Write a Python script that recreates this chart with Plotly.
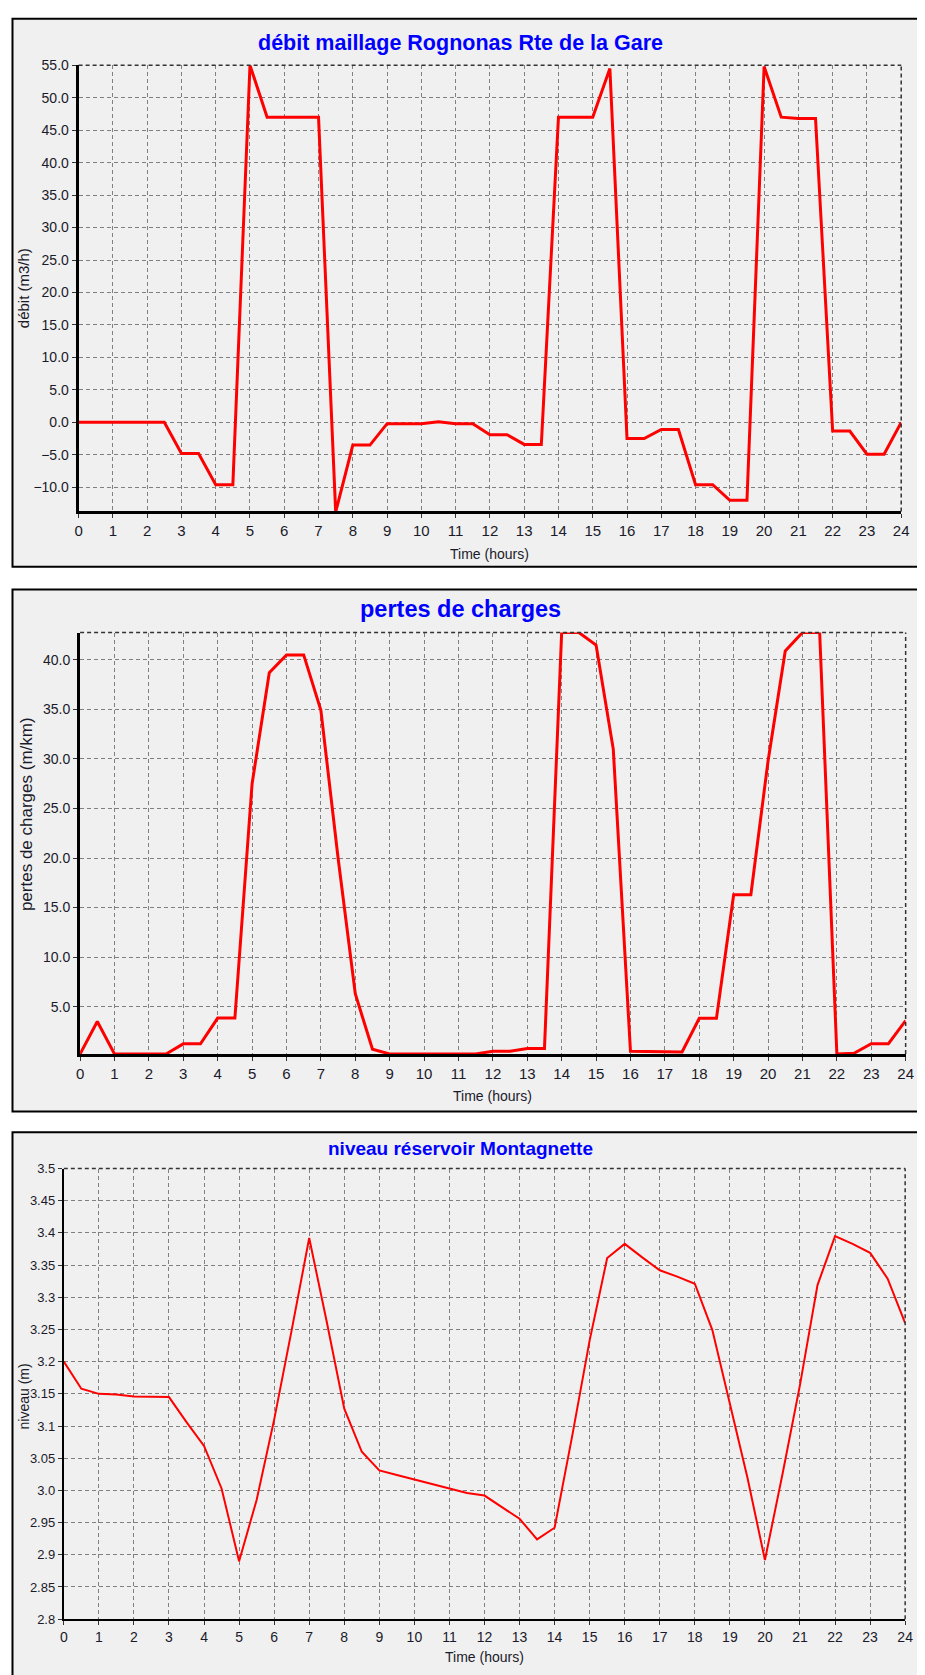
import plotly.graph_objects as go

# The page body has an 8px margin; shift the figure so screen positions match
OFF = 8
W, H = 925 - OFF, 1675 - OFF

hours = [0, 0.5, 1, 1.5, 2, 2.5, 3, 3.5, 4, 4.5, 5, 5.5, 6, 6.5, 7, 7.5, 8, 8.5,
         9, 9.5, 10, 10.5, 11, 11.5, 12, 12.5, 13, 13.5, 14, 14.5, 15, 15.5, 16,
         16.5, 17, 17.5, 18, 18.5, 19, 19.5, 20, 20.5, 21, 21.5, 22, 22.5, 23,
         23.5, 24]

debit = [0, 0, 0, 0, 0, 0, -4.8, -4.8, -9.6, -9.6, 55, 47, 47, 47, 47, -13.8,
         -3.5, -3.5, -0.2, -0.2, -0.2, 0.1, -0.2, -0.2, -1.9, -1.9, -3.4, -3.4,
         47, 47, 47, 54.5, -2.5, -2.5, -1.1, -1.1, -9.6, -9.6, -12, -12, 54.8,
         47, 46.8, 46.8, -1.35, -1.35, -4.9, -4.9, 0]

pertes = [0.23, 3.5, 0.23, 0.23, 0.23, 0.23, 1.25, 1.25, 3.85, 3.85, 27.5, 38.7,
          40.5, 40.5, 34.9, 20.0, 6.3, 0.7, 0.23, 0.23, 0.23, 0.23, 0.23, 0.23,
          0.5, 0.5, 0.77, 0.77, 42.76, 42.76, 41.5, 31.0, 0.5, 0.5, 0.43, 0.43,
          3.83, 3.83, 16.3, 16.3, 29.8, 40.9, 42.76, 42.76, 0.23, 0.3, 1.26,
          1.26, 3.6]

niveau = [3.20, 3.158, 3.15, 3.149, 3.146, 3.145, 3.145, 3.106, 3.069, 3.003,
          2.89, 2.985, 3.11, 3.249, 3.392, 3.262, 3.127, 3.06, 3.031, 3.024,
          3.017, 3.009, 3.003, 2.996, 2.992, 2.974, 2.956, 2.924, 2.942, 3.084,
          3.233, 3.361, 3.383, 3.362, 3.342, 3.332, 3.321, 3.249, 3.137, 3.02,
          2.892, 3.025, 3.164, 3.319, 3.395, 3.383, 3.369, 3.329, 3.26]

x_ticks = list(range(0, 25))
niveau_tickvals = [2.8, 2.85, 2.9, 2.95, 3.0, 3.05, 3.1, 3.15, 3.2, 3.25, 3.3,
                   3.35, 3.4, 3.45, 3.5]
niveau_ticktext = ["2.8", "2.85", "2.9", "2.95", "3.0", "3.05", "3.1", "3.15",
                   "3.2", "3.25", "3.3", "3.35", "3.4", "3.45", "3.5"]

titles = ["débit maillage Rognonas Rte de la Gare", "pertes de charges",
          "niveau réservoir Montagnette"]
y_titles = ["débit (m3/h)", "pertes de charges (m/km)", "niveau (m)"]
x_title = "Time (hours)"

FONT = "Arial, Liberation Sans, sans-serif"
TXT = "#1a1a2a"


def fx(px):
    return (px - OFF) / W


def fy(py):
    return 1 - (py - OFF) / H


# geometry (screen pixels) of each panel
panels = [
    dict(box=(8.5, 10.7, 950, 564), plot=(75.5, 57.7, 909, 508.3),
         title_y=35, xt_y=551, yt_x=20, yt_y=283, lw=3, line_w=3),
    dict(box=(8.5, 587, 950, 1114), plot=(77, 630.5, 913.5, 1056),
         title_y=607, xt_y=1098, yt_x=22, yt_y=814, lw=3, line_w=3),
    dict(box=(8.5, 1135, 950, 1720), plot=(60.5, 1171.7, 913, 1626.7),
         title_y=1151, xt_y=1665, yt_x=20, yt_y=1402, lw=2, line_w=2),
]

fig = go.Figure()
series = [debit, pertes, niveau]
for i, vals in enumerate(series):
    sfx = "" if i == 0 else str(i + 1)
    fig.add_trace(go.Scatter(x=hours, y=vals, mode="lines",
                             line=dict(color="#ff0000", width=panels[i]["line_w"]),
                             xaxis="x" + sfx, yaxis="y" + sfx,
                             showlegend=False, hoverinfo="x+y"))

shapes = []
annotations = []
layout = dict(width=W, height=H, margin=dict(l=0, r=0, t=0, b=0),
              paper_bgcolor="white", plot_bgcolor="white", showlegend=False)

grid = dict(showgrid=True, gridcolor="#808080", gridwidth=1, griddash="4px,3px",
            zeroline=False, showline=True, linecolor="black", mirror=False,
            ticks="outside", ticklen=4, tickcolor="#333", tickwidth=1)

yranges = [[-13.73, 55], [0.23, 42.76], [2.8, 3.5]]
title_sizes = [21.5, 23.5, 19]
ytitle_sizes = [15, 17, 14]
ytick_sizes = [14, 14, 13]
xtick_sizes = [15, 15, 14]

for i, p in enumerate(panels):
    sfx = "" if i == 0 else str(i + 1)
    bx0, by0, bx1, by1 = p["box"]
    px0, py0, px1, py1 = p["plot"]
    shapes.append(dict(type="rect", xref="paper", yref="paper", layer="below",
                       x0=fx(bx0), x1=fx(bx1), y0=fy(by1), y1=fy(by0),
                       fillcolor="#f0f0f0", line=dict(color="black", width=2)))
    xa = dict(grid, domain=[fx(px0), fx(px1)], range=[0, 24],
              tickvals=x_ticks, linewidth=p["lw"],
              tickfont=dict(family=FONT, size=xtick_sizes[i], color=TXT),
              anchor="y" + sfx)
    ya = dict(grid, domain=[fy(py1), fy(py0)], range=yranges[i],
              linewidth=p["lw"], anchor="x" + sfx,
              tickfont=dict(family=FONT, size=ytick_sizes[i], color=TXT))
    if i < 2:
        ya.update(tick0=0, dtick=5, tickformat=".1f")
    else:
        ya.update(tickvals=niveau_tickvals, ticktext=niveau_ticktext)
    layout["xaxis" + sfx] = xa
    layout["yaxis" + sfx] = ya

    # dashed top and right borders of plot area
    shapes.append(dict(type="line", xref="x" + sfx + " domain", yref="y" + sfx + " domain",
                       x0=0, x1=1, y0=1, y1=1,
                       line=dict(color="#333", width=1.5, dash="4px,3px")))
    shapes.append(dict(type="line", xref="x" + sfx + " domain", yref="y" + sfx + " domain",
                       x0=1, x1=1, y0=0, y1=1,
                       line=dict(color="#333", width=1.5, dash="4px,3px")))

    annotations.append(dict(text=titles[i], xref="paper", yref="paper",
                            x=fx(462.5), y=fy(p["title_y"]), xanchor="center",
                            yanchor="middle", showarrow=False,
                            font=dict(family=FONT, size=title_sizes[i],
                                      color="#0000ff", weight="bold")))
    annotations.append(dict(text=y_titles[i], xref="paper", yref="paper",
                            x=fx(p["yt_x"]), y=fy(p["yt_y"]), textangle=-90,
                            xanchor="center", yanchor="middle", showarrow=False,
                            font=dict(family=FONT, size=ytitle_sizes[i], color=TXT)))
    annotations.append(dict(text=x_title, xref="paper", yref="paper",
                            x=fx((px0 + px1) / 2), y=fy(p["xt_y"]),
                            xanchor="center", yanchor="middle", showarrow=False,
                            font=dict(family=FONT, size=14, color=TXT)))

layout["shapes"] = shapes
layout["annotations"] = annotations
fig.update_layout(**layout)
fig.write_html("out.html")
